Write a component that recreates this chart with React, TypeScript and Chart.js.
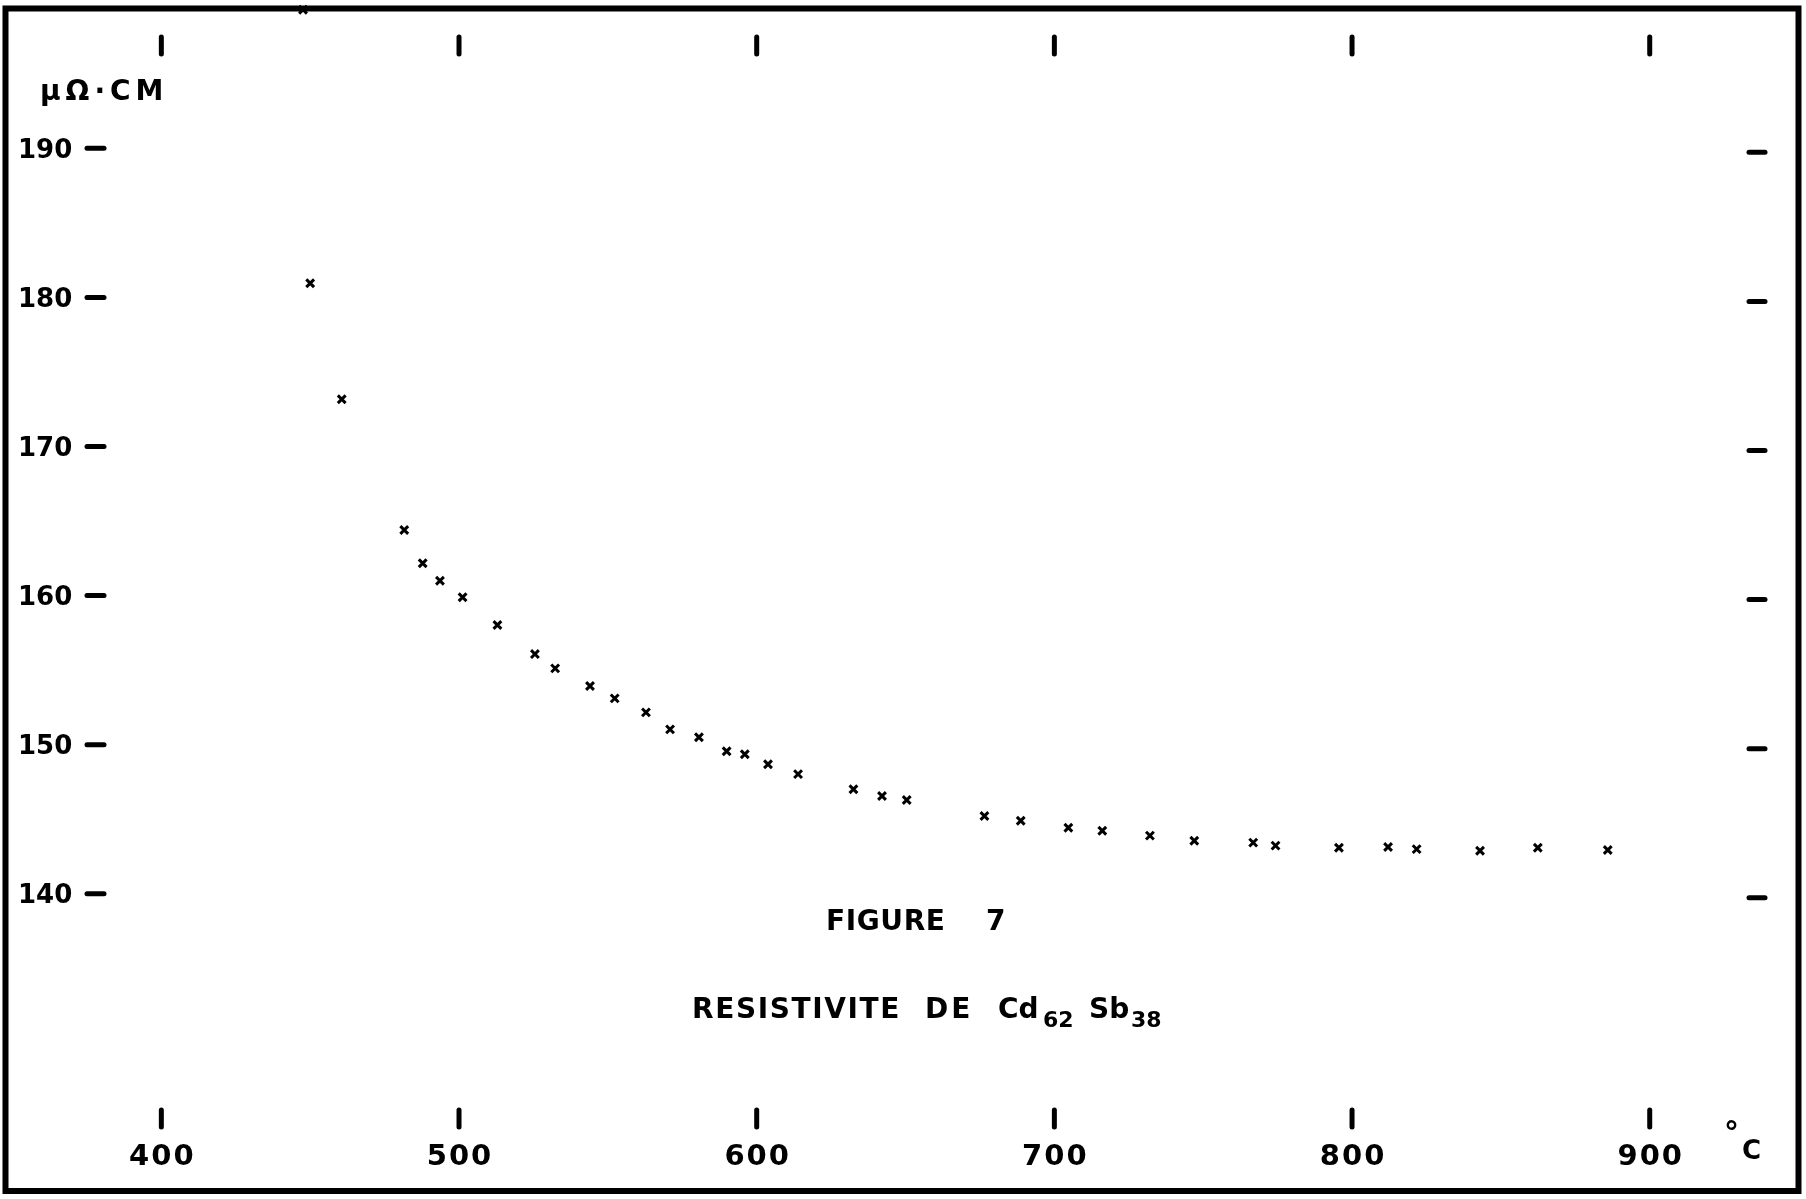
import React, { useEffect, useRef } from "react";
import { Chart, registerables } from "chart.js";

Chart.register(...registerables);

// ---- data (temperature °C, resistivity µΩ·cm) ----
const temperatures = [
  447.6, 450.0, 460.6, 481.6, 487.8, 493.6, 501.2, 512.9, 525.5, 532.3,
  544.0, 552.3, 562.8, 570.9, 580.6, 589.9, 596.0, 603.8, 613.9, 632.5,
  642.1, 650.4, 676.5, 688.7, 704.7, 716.1, 732.1, 747.0, 766.8, 774.3,
  795.6, 812.1, 821.7, 843.0, 862.4, 885.9,
];
const resistivity = [
  199.3, 180.95, 173.17, 164.4, 162.17, 161.0, 159.89, 158.03, 156.08, 155.12,
  153.94, 153.11, 152.17, 151.03, 150.5, 149.56, 149.36, 148.69, 148.03, 147.01,
  146.56, 146.29, 145.22, 144.9, 144.43, 144.23, 143.9, 143.56, 143.43, 143.23,
  143.09, 143.14, 143.0, 142.89, 143.09, 142.94,
];
const xTicks = [400, 500, 600, 700, 800, 900];
const xTickLabels = ["400", "500", "600", "700", "800", "900"];
const yTicks = [190, 180, 170, 160, 150, 140];
const yTickLabels = ["190", "180", "170", "160", "150", "140"];

const X_MIN = 345.8;
const X_MAX = 952.5;
const Y_MIN = 119.53;
const Y_MAX = 199.95;

const W = 1806;
const H = 1199;
const FONT = "'DejaVu Sans', 'Liberation Sans', Arial, sans-serif";

function drawSpaced(
  ctx: CanvasRenderingContext2D,
  text: string,
  x: number,
  y: number,
  spacing: number,
  align: "left" | "center" | "right"
) {
  const chars = [...text];
  const widths = chars.map((c) => ctx.measureText(c).width);
  const total = widths.reduce((a, b) => a + b, 0) + spacing * (chars.length - 1);
  let cx = align === "center" ? x - total / 2 : align === "right" ? x - total : x;
  ctx.textAlign = "left";
  chars.forEach((c, i) => {
    ctx.fillText(c, cx, y);
    cx += widths[i] + spacing;
  });
}

const framePlugin = {
  id: "paperFrame",
  afterDraw(chart: any) {
    const ctx: CanvasRenderingContext2D = chart.ctx;
    const xs = chart.scales.x;
    const ys = chart.scales.y;
    ctx.save();
    ctx.strokeStyle = "#000";
    ctx.fillStyle = "#000";

    // outer frame
    ctx.lineWidth = 6;
    ctx.lineJoin = "miter";
    ctx.strokeRect(5.5, 8.5, 1793, 1182.5);

    ctx.lineCap = "round";
    ctx.lineWidth = 5;
    // x ticks top and bottom
    xTicks.forEach((t) => {
      const px = xs.getPixelForValue(t);
      ctx.beginPath();
      ctx.moveTo(px, 37);
      ctx.lineTo(px, 54);
      ctx.stroke();
      ctx.beginPath();
      ctx.moveTo(px, 1110);
      ctx.lineTo(px, 1127);
      ctx.stroke();
    });
    // y ticks left and right
    yTicks.forEach((v) => {
      const py = ys.getPixelForValue(v);
      ctx.beginPath();
      ctx.moveTo(87, py);
      ctx.lineTo(104, py);
      ctx.stroke();
      ctx.beginPath();
      ctx.moveTo(1749, py + 4);
      ctx.lineTo(1765, py + 4);
      ctx.stroke();
    });

    // tick labels
    ctx.textBaseline = "alphabetic";
    ctx.font = `bold 29px ${FONT}`;
    xTicks.forEach((t, i) => {
      const px = xs.getPixelForValue(t);
      drawSpaced(ctx, xTickLabels[i], px, 1154 + 0.3645 * 29, 2, "center");
    });
    ctx.font = `bold 26px ${FONT}`;
    yTicks.forEach((v, i) => {
      const py = ys.getPixelForValue(v);
      drawSpaced(ctx, yTickLabels[i], 18, py + 0.3645 * 26, 0, "left");
    });
    ctx.restore();
  },
};

function Label(props: {
  left: number;
  cc: number;
  size: number;
  ls?: number;
  children: React.ReactNode;
}) {
  const { left, cc, size, ls = 0, children } = props;
  return (
    <div
      style={{
        position: "absolute",
        left,
        top: cc - 0.4815 * size,
        fontFamily: FONT,
        fontWeight: "bold",
        fontSize: size,
        lineHeight: `${size}px`,
        letterSpacing: ls,
        whiteSpace: "nowrap",
        color: "#000",
      }}
    >
      {children}
    </div>
  );
}

export default function App() {
  const canvasRef = useRef<HTMLCanvasElement | null>(null);

  useEffect(() => {
    if (!canvasRef.current) return;
    const data = temperatures.map((t, i) => ({ x: t, y: resistivity[i] }));
    const chart = new Chart(canvasRef.current, {
      type: "scatter",
      data: {
        datasets: [
          {
            label: "Résistivité Cd62Sb38",
            data,
            pointStyle: "crossRot",
            pointRadius: 5.5,
            pointBorderWidth: 3,
            borderColor: "#000",
            backgroundColor: "#000",
            showLine: false,
            clip: false as any,
          },
        ],
      },
      options: {
        animation: false,
        responsive: false,
        maintainAspectRatio: false,
        devicePixelRatio: 1,
        layout: { padding: 0, autoPadding: false },
        plugins: {
          legend: { display: false },
          tooltip: { enabled: false },
          title: { display: false },
        },
        scales: {
          x: { type: "linear", min: X_MIN, max: X_MAX, display: false },
          y: { type: "linear", min: Y_MIN, max: Y_MAX, display: false },
        },
      },
      plugins: [framePlugin],
    });
    return () => chart.destroy();
  }, []);

  return (
    <div
      style={{
        position: "absolute",
        left: 0,
        top: 0,
        width: W,
        height: H,
        background: "#fff",
        overflow: "hidden",
      }}
    >
      <canvas ref={canvasRef} width={W} height={H} style={{ display: "block" }} />
      <Label left={40} cc={90} size={28} ls={5}>
        μΩ·CM
      </Label>
      <Label left={1724} cc={1132} size={30}>
        °
      </Label>
      <Label left={1742} cc={1150} size={26}>
        C
      </Label>
      <Label left={826} cc={920} size={28} ls={0.6}>
        FIGURE
      </Label>
      <Label left={986} cc={920} size={28}>
        7
      </Label>
      <Label left={692} cc={1008} size={28} ls={1.6}>
        RESISTIVITE
      </Label>
      <Label left={925} cc={1008} size={28} ls={3}>
        DE
      </Label>
      <Label left={998} cc={1008} size={28}>
        Cd
      </Label>
      <Label left={1043} cc={1020} size={22}>
        62
      </Label>
      <Label left={1089} cc={1008} size={28}>
        Sb
      </Label>
      <Label left={1131} cc={1020} size={22}>
        38
      </Label>
    </div>
  );
}
